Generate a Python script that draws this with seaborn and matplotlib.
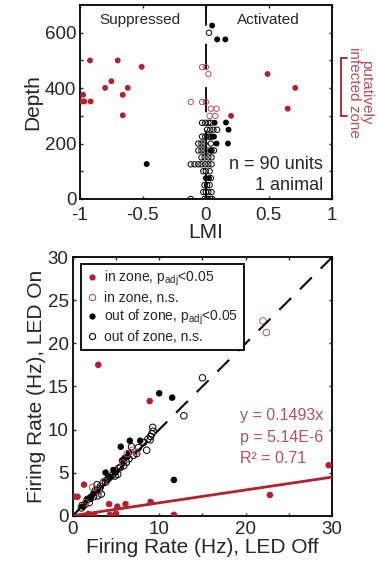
import matplotlib
matplotlib.use("Agg")
import matplotlib.pyplot as plt
from matplotlib.lines import Line2D
import seaborn as sns
import numpy as np

RED = '#b3202e'
RED_OPEN = '#b8505c'

# ---- top panel: LMI vs depth ----
in_sig_lmi = [-0.92, -0.70, -0.51, -0.75, -0.80, -0.62, -0.975, -0.66, -0.985, -0.965,
              -0.915, -0.66, 0.49, 0.71, 0.65, 0.20]
in_sig_depth = [500, 500, 477, 425, 401, 401, 376, 376, 352, 352, 352, 302, 451, 401, 326, 300]

in_ns_lmi = [-0.03, 0.0, 0.02, -0.12, -0.03, 0.0, 0.04, 0.085, 0.03, 0.075]
in_ns_depth = [476, 476, 451, 350, 350, 350, 326, 326, 300, 300]

out_sig_lmi = [0.05, 0.09, 0.155, -0.47, 0.16, 0.18, 0.175, 0.085, 0.07, 0.05, 0.065, 0.04, 0.0, 0.025]
out_sig_depth = [626, 576, 576, 126, 276, 250, 200, 200, 275, 225, 225, 175, 75, 75]

out_ns_lmi = [-0.12, -0.01, 0.01, 0.035, 0.05,
              -0.02, 0.0, 0.02, 0.045,
              0.01, 0.03, -0.01,
              0.04,
              0.0, 0.03, -0.02,
              -0.12, -0.09, -0.06, -0.035, -0.005, 0.02, 0.045,
              -0.01, 0.02, 0.045, -0.035,
              -0.06, -0.035, -0.01, 0.015, 0.045, 0.065,
              -0.06, -0.035, -0.01, 0.04,
              -0.03, -0.005, 0.02, 0.04,
              0.035, 0.06, 0.09, 0.01,
              -0.03, -0.005, 0.02, 0.04,
              0.025]
out_ns_depth = [0, 0, 0, 0, 0,
                25, 25, 25, 25,
                50, 50, 50,
                75,
                100, 100, 100,
                125, 125, 125, 125, 125, 125, 125,
                150, 150, 150, 150,
                175, 175, 175, 175, 175, 175,
                200, 200, 200, 200,
                225, 225, 225, 225,
                250, 250, 250, 250,
                275, 275, 275, 275,
                600]

# ---- bottom panel: firing rate LED off vs on ----
in_sig_off = [2.95, 8.9, 0.2, 0.55, 1.3, 1.8, 2.5, 4.2, 4.3, 5.0, 5.15, 6.1, 9.0, 11.7, 22.8, 29.6]
in_sig_on = [17.5, 13.3, 2.2, 2.2, 3.6, 0.2, 0.05, 1.35, 0.1, 0.25, 1.05, 1.35, 1.6, 0.1, 2.4, 5.85]

in_ns_off = [22.0, 22.4, 1.5, 2.3, 3.0, 3.6, 5.8, 6.3, 6.9, 7.3]
in_ns_on = [22.6, 21.25, 1.5, 3.3, 2.8, 4.0, 6.1, 7.2, 7.6, 7.4]

out_sig_off = [10.0, 11.5, 11.7, 5.55, 6.6, 7.8, 3.8, 4.7, 4.9, 6.3, 6.5, 1.2, 2.1, 2.4,
               3.9, 4.4, 5.7, 6.0, 1.6, 2.8]
out_sig_on = [14.2, 13.7, 4.15, 8.0, 8.7, 8.7, 5.0, 5.3, 5.0, 6.85, 7.3, 1.05, 2.2, 2.6,
              4.1, 4.5, 6.4, 6.7, 1.8, 3.0]

out_ns_off = [15.0, 12.85, 9.25, 9.3, 9.15, 8.55, 8.95, 7.4, 6.8, 8.7, 7.0, 6.2, 5.9, 5.0,
              5.2, 4.6, 4.2, 3.5, 3.2, 2.8, 2.6, 2.4, 2.0, 1.7, 1.4, 1.1, 1.0, 3.3, 2.9,
              4.0, 5.5, 6.5, 7.6, 8.2, 9.0, 1.9, 3.1, 3.8, 4.9, 5.3]
out_ns_on = [16.0, 11.6, 10.25, 9.8, 9.5, 7.6, 8.8, 7.2, 8.0, 8.9, 7.0, 6.2, 5.8, 5.2,
             4.8, 4.7, 4.4, 3.8, 3.4, 3.6, 2.9, 2.2, 2.0, 1.9, 1.3, 1.2, 0.9, 2.5, 2.3,
             4.2, 5.6, 6.6, 7.9, 8.5, 9.2, 1.5, 3.1, 3.9, 4.6, 5.5]

slope = 0.1493
fit_text = ['y = 0.1493x', 'p = 5.14E-6', 'R\u00b2 = 0.71']

sns.set_style('ticks', {'xtick.direction': 'in', 'ytick.direction': 'in'})
plt.rcParams['font.family'] = ['Liberation Sans', 'DejaVu Sans']
plt.rcParams['mathtext.fontset'] = 'custom'
plt.rcParams['mathtext.rm'] = 'Liberation Sans'
plt.rcParams['axes.unicode_minus'] = False

fig = plt.figure(figsize=(3.77, 5.62), dpi=100)
ax1 = fig.add_axes([0.212, 0.646, 0.668, 0.345])
ax2 = fig.add_axes([0.193, 0.0824, 0.688, 0.46])


def style_axes(ax):
    for sp in ax.spines.values():
        sp.set_linewidth(1.3)
        sp.set_color('black')
        sp.set_visible(True)
    ax.tick_params(which='both', direction='in', top=True, right=True,
                   length=2.5, width=1, labelsize=13.5, pad=3)


# top panel
ax1.axvline(0, color='black', lw=1.3, linestyle=(0, (14, 10)), zorder=1)
sns.scatterplot(x=out_ns_lmi, y=out_ns_depth, ax=ax1, s=15, facecolor='none',
                edgecolor='black', linewidth=0.7, zorder=3)
sns.scatterplot(x=out_sig_lmi, y=out_sig_depth, ax=ax1, s=18, color='black',
                edgecolor='none', zorder=3)
sns.scatterplot(x=in_ns_lmi, y=in_ns_depth, ax=ax1, s=15, facecolor='none',
                edgecolor=RED_OPEN, linewidth=0.7, zorder=3)
sns.scatterplot(x=in_sig_lmi, y=in_sig_depth, ax=ax1, s=18, color=RED,
                edgecolor='none', zorder=3)
ax1.set_xlim(-1, 1)
ax1.set_ylim(0, 700)
ax1.set_xticks([-1, -0.5, 0, 0.5, 1])
ax1.set_xticklabels(['-1', '-0.5', '0', '0.5', '1'])
ax1.set_yticks([0, 200, 400, 600])
ax1.set_yticks([100, 300, 500], minor=True)
style_axes(ax1)
ax1.tick_params(axis='x', pad=6)
ax1.tick_params(axis='y', pad=2.5)
ax1.set_xlabel('LMI', fontsize=15, labelpad=-1)
ax1.set_ylabel('Depth', fontsize=15, labelpad=2)
ax1.text(-0.52, 645, 'Suppressed', fontsize=11, ha='center', va='center')
ax1.text(0.5, 645, 'Activated', fontsize=11, ha='center', va='center')
ax1.text(0.93, 125, 'n = 90 units', fontsize=13, ha='right', va='center')
ax1.text(0.93, 47, '1 animal', fontsize=13, ha='right', va='center')

# bracket for putatively infected zone
ax1.plot([1.075, 1.075], [300, 510], color=RED, lw=1.3, clip_on=False)
ax1.plot([1.075, 1.12], [510, 510], color=RED, lw=1.3, clip_on=False)
ax1.plot([1.075, 1.12], [300, 300], color=RED, lw=1.3, clip_on=False)
ax1.text(1.225, 385, 'putatively\ninfected zone', fontsize=11, color=RED_OPEN,
         rotation=270, ha='center', va='center', linespacing=0.8, clip_on=False)

# bottom panel
ax2.plot([0, 30], [0, 30], color='black', lw=1.5, linestyle=(0, (8, 6)), zorder=4)
x_fit = np.array([0, 30])
ax2.plot(x_fit, slope * x_fit, color=RED, lw=2, zorder=4)
sns.scatterplot(x=out_ns_off, y=out_ns_on, ax=ax2, s=22, facecolor='none',
                edgecolor='black', linewidth=0.7, zorder=3)
sns.scatterplot(x=out_sig_off, y=out_sig_on, ax=ax2, s=22, color='black',
                edgecolor='none', zorder=3)
sns.scatterplot(x=in_ns_off, y=in_ns_on, ax=ax2, s=22, facecolor='none',
                edgecolor=RED_OPEN, linewidth=0.7, zorder=3)
sns.scatterplot(x=in_sig_off, y=in_sig_on, ax=ax2, s=22, color=RED,
                edgecolor='none', zorder=3)
ax2.set_xlim(0, 30)
ax2.set_ylim(0, 30)
ax2.set_xticks([0, 10, 20, 30])
ax2.set_xticks([5, 15, 25], minor=True)
ax2.set_yticks([0, 5, 10, 15, 20, 25, 30])
style_axes(ax2)
ax2.tick_params(axis='x', pad=3.5)
ax2.set_xlabel('Firing Rate (Hz), LED Off', fontsize=15, labelpad=0)
ax2.set_ylabel('Firing Rate (Hz), LED On', fontsize=15, labelpad=1)
for i, t in enumerate(fit_text):
    ax2.text(19.4, 11.6 - 2.5 * i, t, fontsize=11.5, color=RED_OPEN, ha='left', va='center')

handles = [
    Line2D([], [], marker='o', ls='none', color=RED, markeredgecolor='none', markersize=4.5),
    Line2D([], [], marker='o', ls='none', markerfacecolor='none', markeredgecolor=RED_OPEN,
           markeredgewidth=0.8, markersize=4.5),
    Line2D([], [], marker='o', ls='none', color='black', markeredgecolor='none', markersize=4.5),
    Line2D([], [], marker='o', ls='none', markerfacecolor='none', markeredgecolor='black',
           markeredgewidth=0.8, markersize=4.5),
]
labels = ['in zone, p$_{\\rm adj}$<0.05', 'in zone, n.s.',
          'out of zone, p$_{\\rm adj}$<0.05', 'out of zone, n.s.']
leg = ax2.legend(handles, labels, loc='upper left', bbox_to_anchor=(0.03, 0.975),
                 fontsize=10, frameon=True, fancybox=False, framealpha=1,
                 edgecolor='black', handlelength=0.8, handletextpad=0.5,
                 labelspacing=0.2, borderpad=0.4, borderaxespad=0)
leg.get_frame().set_linewidth(1.3)

fig.savefig('out.png', dpi=100)
